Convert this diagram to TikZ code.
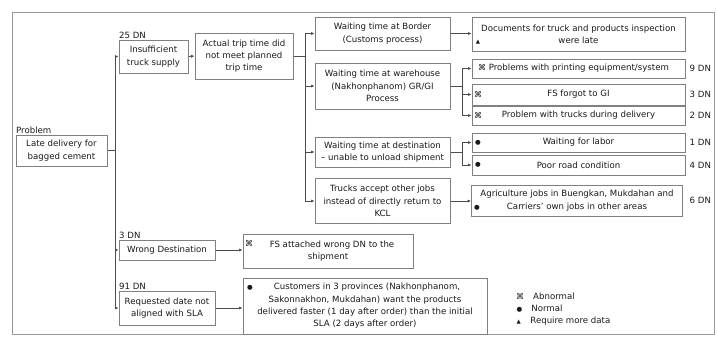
\documentclass[tikz,border=0pt]{standalone}
\usepackage{fontspec}
\setmainfont{DejaVu Sans}
\newfontfamily\symf{DejaVu Sans}
\usetikzlibrary{arrows.meta}
\newcommand{\abn}{{\symf\fontsize{8}{8}\selectfont ⌘}}
\newcommand{\nrm}{{\symf\fontsize{6.5}{8}\selectfont ●}}
\newcommand{\req}{{\symf\fontsize{5.5}{8}\selectfont ▲}}
\begin{document}
\begin{tikzpicture}[x=1pt,y=-1pt,
  every node/.style={font=\fontsize{8.6}{12.3}\selectfont, text=black!90},
  box/.style={draw=black!50, line width=1pt, fill=white, align=center, inner sep=1pt},
  tag/.style={anchor=south west, inner sep=0.5pt},
  dn/.style={anchor=west, inner sep=0.5pt},
  sym/.style={inner sep=0pt},
  ln/.style={draw=black!70, line width=0.8pt},
  arr/.style={ln, -{Latex[length=3.5pt,width=3.2pt]}}]
\useasboundingbox (0,0) rectangle (717,338);
\draw[black!40, line width=0.8pt] (12,12) rectangle (714,334);

% root and first level
\node[box, minimum width=91, minimum height=31] (prob) at (61.5,150.5) {Late delivery for\\bagged cement};
\node[tag] (probt) at (prob.north west) {Problem};
\node[box, minimum width=69, minimum height=33] (ins) at (153.5,56.5) {Insufficient\\truck supply};
\node[tag] (inst) at (ins.north west) {25 DN};
\node[box, minimum width=96, minimum height=20] (wrong) at (167,250) {Wrong Destination};
\node[tag] (wrongt) at (wrong.north west) {3 DN};
\node[box, minimum width=96, minimum height=34] (reqd) at (167,308) {Requested date not\\aligned with SLA};
\node[tag] (reqdt) at (reqd.north west) {91 DN};

% second level
\node[box, minimum width=98, minimum height=46] (act) at (244,56) {Actual trip time did\\not meet planned\\trip time};

% third level
\node[box, minimum width=135, minimum height=33] (bor) at (382.5,33.5) {Waiting time at Border\\(Customs process)};
\node[box, minimum width=135, minimum height=46] (wh) at (382.5,86) {Waiting time at warehouse\\(Nakhonphanom) GR/GI\\Process};
\node[box, minimum width=135, minimum height=30, inner sep=0pt] (dst) at (382.5,152) {Waiting time at destination\\– unable to unload shipment};
\node[box, minimum width=135, minimum height=45] (trk) at (382.5,201) {Trucks accept other jobs\\instead of directly return to\\KCL};

% causes
\node[box, minimum width=213, minimum height=34] (doc) at (578.5,34) {Documents for truck and products inspection\\were late};
\node[sym] (docs) at (478,42) {\req};
\node[box, minimum width=213, minimum height=19] (prn) at (578.5,68.5) {\abn\ Problems with printing equipment/system\hspace{10pt}};
\node[dn] (prnd) at (689,68.5) {9 DN};
\node[box, minimum width=213, minimum height=21] (fs) at (578.5,94.5) {FS forgot to GI};
\node[sym] (fss) at (478,94.5) {\abn};
\node[dn] (fsd) at (689,94.5) {3 DN};
\node[box, minimum width=213, minimum height=19] (tp) at (578.5,115.5) {Problem with trucks during delivery};
\node[sym] (tps) at (478,115.5) {\abn};
\node[dn] (tpd) at (689,115.5) {2 DN};
\node[box, minimum width=213, minimum height=19] (lab) at (578.5,142.5) {Waiting for labor};
\node[sym] (labs) at (478,142.5) {\nrm};
\node[dn] (labd) at (689,142.5) {1 DN};
\node[box, minimum width=213, minimum height=20] (road) at (578.5,165) {Poor road condition};
\node[sym] (roads) at (478,165) {\nrm};
\node[dn] (roadd) at (689,165) {4 DN};
\node[box, minimum width=211, minimum height=31, inner sep=0pt] (agr) at (577,200.5) {Agriculture jobs in Buengkan, Mukdahan and\\Carriers' own jobs in other areas};
\node[sym] (agrs) at (477,208) {\nrm};
\node[dn] (agrd) at (689,200.5) {6 DN};
\node[box, minimum width=170, minimum height=34] (fsw) at (328,251) {\hspace{8pt}FS attached wrong DN to the\\shipment};
\node[sym] (fsws) at (249,243) {\abn};
\node[box, minimum width=244, minimum height=56, inner sep=0pt] (cust) at (365,306) {\hspace{4pt}Customers in 3 provinces (Nakhonphanom,\\Sakonnakhon, Mukdahan) want the products\\delivered faster (1 day after order) than the initial\\SLA (2 days after order)};
\node[sym] (custs) at (250,288) {\nrm};

% legend
\node[anchor=west, inner sep=0pt] (lg1) at (516,296) {\abn\hspace{9pt}Abnormal};
\node[anchor=west, inner sep=0pt] (lg2) at (516.5,308.5) {\nrm\hspace{9pt}Normal};
\node[anchor=west, inner sep=0pt] (lg3) at (516.5,321) {\req\hspace{9.5pt}Require more data};

% junction columns
\coordinate (j1) at (115,0);
\coordinate (j2) at (305,0);
\coordinate (j3) at (462,0);

% trunk from the problem
\draw[ln] (prob.east) -- (prob.east -| j1);
\draw[ln] (j1 |- ins.west) -- (j1 |- reqd.west);
\draw[arr] (j1 |- ins.west) -- (ins.west);
\draw[arr] (j1 |- wrong.west) -- (wrong.west);
\draw[arr] (j1 |- reqd.west) -- (reqd.west);

\draw[arr] (ins.east) -- (act.west);

% branches of the trip time
\draw[ln] (act.east) -- (act.east -| j2);
\draw[ln] (j2 |- bor.west) -- (j2 |- trk.west);
\draw[arr] (j2 |- bor.west) -- (bor.west);
\draw[arr] (j2 |- wh.west) -- (wh.west);
\draw[arr] (j2 |- dst.west) -- (dst.west);
\draw[arr] (j2 |- trk.west) -- (trk.west);

% causes of each waiting time
\draw[arr] (bor.east) -- (bor.east -| doc.west);
\draw[ln] (wh.east) -- (wh.east -| j3);
\draw[ln] (j3 |- prn.west) -- (j3 |- tp.west);
\draw[arr] (j3 |- prn.west) -- (prn.west);
\draw[arr] (j3 |- fs.west) -- (fs.west);
\draw[arr] (j3 |- tp.west) -- (tp.west);
\draw[ln] (dst.east) -- (dst.east -| j3);
\draw[ln] (j3 |- lab.west) -- (j3 |- road.west);
\draw[arr] (j3 |- lab.west) -- (lab.west);
\draw[arr] (j3 |- road.west) -- (road.west);
\draw[arr] (trk.east) -- (trk.east -| agr.west);

\draw[arr] (wrong.east) -- (wrong.east -| fsw.west);
\draw[arr] (reqd.east) -- (reqd.east -| cust.west);
\end{tikzpicture}
\end{document}
